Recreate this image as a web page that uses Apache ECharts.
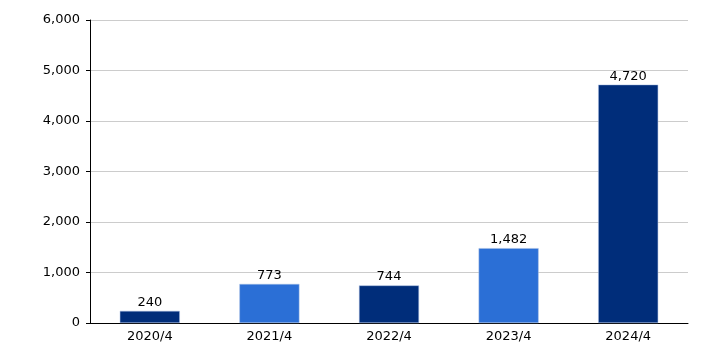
<!DOCTYPE html>
<html>
<head>
<meta charset="utf-8">
<script src="https://cdn.jsdelivr.net/npm/echarts@6/dist/echarts.min.js"></script>
<style>
  html, body { margin: 0; padding: 0; background: #fff; }
  #main { width: 706px; height: 353px; }
</style>
</head>
<body>
<div id="main"></div>
<script>
  var categories = ['2020/4', '2021/4', '2022/4', '2023/4', '2024/4'];
  var values = [240, 773, 744, 1482, 4720];
  var barColors = ['#002d7a', '#2b6fd6', '#002d7a', '#2b6fd6', '#002d7a'];

  var chart = echarts.init(document.getElementById('main'));
  var fmt = function (v) { return Number(v).toLocaleString('en-US'); };

  chart.setOption({
    animation: false,
    textStyle: { fontFamily: 'DejaVu Sans' },
    grid: { left: 90, right: 18, top: 20, bottom: 30 },
    xAxis: {
      type: 'category',
      data: categories,
      axisLine: { lineStyle: { color: '#000', width: 1 } },
      axisTick: { alignWithLabel: true, length: 4, lineStyle: { color: '#000' } },
      axisLabel: { color: '#000', fontSize: 13, margin: 7 }
    },
    yAxis: {
      type: 'value',
      min: 0,
      max: 6000,
      interval: 1000,
      axisLine: { show: true, lineStyle: { color: '#000', width: 1 } },
      axisTick: { show: true, length: 4, lineStyle: { color: '#000' } },
      axisLabel: { color: '#000', fontSize: 13, margin: 10, formatter: fmt },
      splitLine: { lineStyle: { color: '#cccccc' } }
    },
    series: [{
      type: 'bar',
      barWidth: 60,
      data: values.map(function (v, i) {
        return { value: v, itemStyle: { color: barColors[i], borderColor: '#a9bfe3', borderWidth: 0.5 } };
      }),
      label: {
        show: true,
        position: 'top',
        distance: 2,
        color: '#000',
        fontSize: 13,
        formatter: function (p) { return fmt(p.value); }
      }
    }]
  });
</script>
</body>
</html>
